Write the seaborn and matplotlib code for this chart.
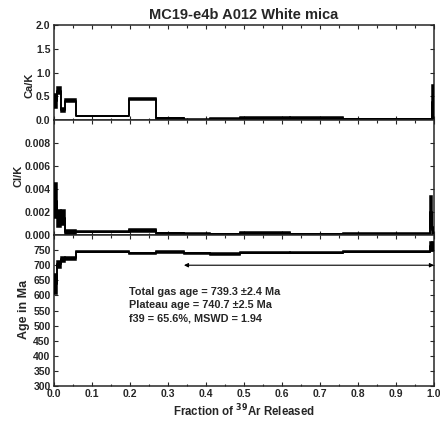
import matplotlib
matplotlib.use("Agg")
import matplotlib.pyplot as plt
import seaborn as sns
import pandas as pd
from matplotlib.ticker import MultipleLocator, FormatStrFormatter

# ---- data ----
edges = [0.0, 0.007, 0.018, 0.029, 0.058, 0.198, 0.268, 0.342, 0.410, 0.490,
         0.621, 0.761, 0.989, 0.996, 1.0]
ca_k = [0.40, 0.62, 0.21, 0.41, 0.085, 0.45, 0.033, 0.010, 0.028, 0.032,
        0.032, 0.015, 0.02, 0.37]
ca_k_err = [0.15, 0.08, 0.05, 0.025, 0.008, 0.02, 0.012, 0.008, 0.012, 0.025,
            0.025, 0.007, 0.01, 0.36]
cl_k = [0.0030, 0.00145, 0.0015, 0.00025, 0.0003, 0.0004, 0.00015, 0.0001,
        0.00005, 0.00015, 0.00007, 0.0001, 0.0020, 0.0004]
cl_k_err = [0.00155, 0.00075, 0.00065, 0.00022, 0.00008, 0.00014, 0.00006,
            0.00005, 0.00004, 0.00007, 0.00004, 0.00005, 0.0014, 0.0003]
age = [638, 703, 720, 723, 745, 739, 744, 739, 737, 741.5, 741.5, 745, 762, 762]
age_err = [33, 11, 8, 5, 2.5, 2, 2.5, 2.2, 2.2, 1.7, 1.7, 1.7, 14, 14]

plateau_range = [0.342, 1.0]
plateau_y = 700

title = "MC19-e4b A012 White mica"
info_lines = ["Total gas age = 739.3 \u00b12.4 Ma",
              "Plateau age = 740.7 \u00b12.5 Ma",
              "f39 = 65.6%, MSWD = 1.94"]
info_x = 0.198
info_y = [610, 567, 524]

x_ticks = [0.0, 0.1, 0.2, 0.3, 0.4, 0.5, 0.6, 0.7, 0.8, 0.9, 1.0]

# ---- style ----
sns.set_style("ticks")
plt.rcParams['font.family'] = ['Liberation Sans', 'DejaVu Sans']
plt.rcParams['font.weight'] = 'bold'
plt.rcParams['axes.linewidth'] = 1.1
plt.rcParams['xtick.labelsize'] = 7.5
plt.rcParams['ytick.labelsize'] = 7.5

fig = plt.figure(figsize=(4.4, 4.24), dpi=100)
L, W = 0.1227, 0.8636
ax1 = fig.add_axes([L, 0.717, W, 0.224])
ax2 = fig.add_axes([L, 0.4457, W, 0.2713])
ax3 = fig.add_axes([L, 0.0896, W, 0.3561])

lefts = edges[:-1]
widths = [edges[i + 1] - edges[i] for i in range(len(edges) - 1)]


def draw_spectrum(ax, vals, errs):
    df = pd.DataFrame({"x": edges, "y": list(vals) + [vals[-1]]})
    sns.lineplot(data=df, x="x", y="y", ax=ax, estimator=None, sort=False,
                 drawstyle="steps-post", color="black", linewidth=1.4,
                 legend=False)
    ax.bar(lefts, [2 * e for e in errs], width=widths,
           bottom=[v - e for v, e in zip(vals, errs)], align="edge",
           color="black", edgecolor="black", linewidth=1.1, zorder=3)


draw_spectrum(ax1, ca_k, ca_k_err)
draw_spectrum(ax2, cl_k, cl_k_err)
draw_spectrum(ax3, age, age_err)

ax1.set_ylim(0, 2.0)
ax2.set_ylim(0, 0.010)
ax3.set_ylim(300, 800)

ax1.set_yticks([0.0, 0.5, 1.0, 1.5, 2.0])
ax1.yaxis.set_major_formatter(FormatStrFormatter('%.1f'))
ax2.set_yticks([0.0, 0.002, 0.004, 0.006, 0.008])
ax2.yaxis.set_major_formatter(FormatStrFormatter('%.3f'))
ax3.set_yticks(list(range(300, 751, 50)))
ax3.xaxis.set_major_formatter(FormatStrFormatter('%.1f'))

for ax in (ax1, ax2, ax3):
    ax.set_xlim(0, 1.0)
    ax.set_xticks(x_ticks)
    ax.xaxis.set_minor_locator(MultipleLocator(0.05))
    ax.tick_params(which='both', direction='in', top=True, right=True,
                   pad=2.5, width=0.8, labelsize=7.5)
    ax.tick_params(which='major', length=3)
    ax.tick_params(which='minor', length=1.8)
    ax.set_xlabel("")
    for lab in ax.get_yticklabels() + ax.get_xticklabels():
        lab.set_fontweight('bold')

ax1.tick_params(labelbottom=False)
ax2.tick_params(labelbottom=False)

ax1.set_ylabel("Ca/K", fontsize=8, fontweight='bold')
ax2.set_ylabel("Cl/K", fontsize=8, fontweight='bold')
ax3.set_ylabel("Age in Ma", fontsize=9, fontweight='bold')
ax1.yaxis.set_label_coords(-0.052, 0.37)
ax2.yaxis.set_label_coords(-0.08, 0.51)
ax3.yaxis.set_label_coords(-0.064, 0.505)

ax3.set_xlabel("Fraction of $\\mathbf{^{39}}$Ar Released", fontsize=8.3,
               fontweight='bold', labelpad=2)

ax1.set_title(title, fontsize=10.5, fontweight='bold', pad=4)

ax3.annotate('', xy=(plateau_range[1], plateau_y),
             xytext=(plateau_range[0], plateau_y),
             arrowprops=dict(arrowstyle='<|-|>', lw=0.8, color='black',
                             mutation_scale=6, shrinkA=0, shrinkB=0))

for line, y in zip(info_lines, info_y):
    ax3.text(info_x, y, line, fontsize=7.8, fontweight='bold',
             va='center', ha='left')

fig.savefig("out.png", dpi=100)
